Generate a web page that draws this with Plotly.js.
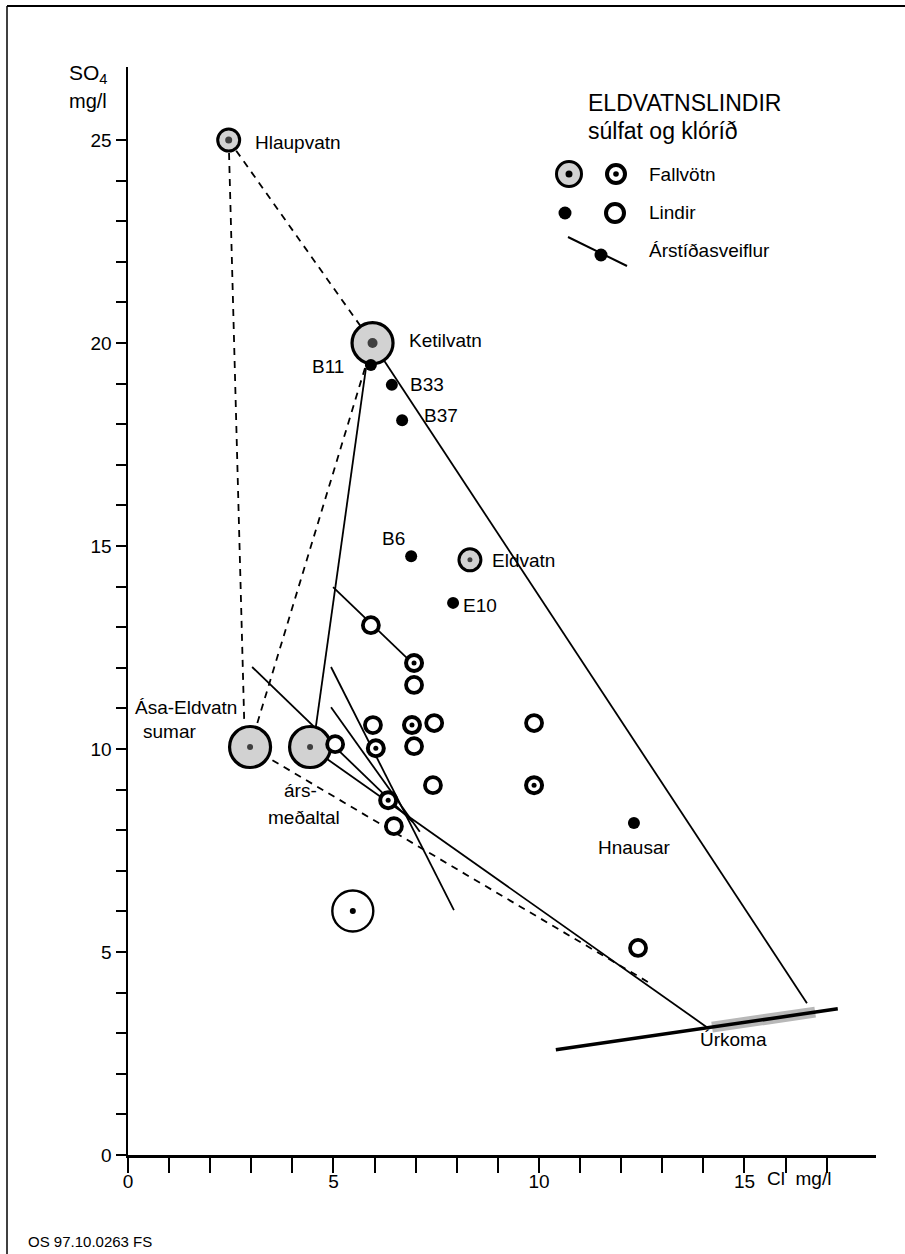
<!DOCTYPE html>
<html>
<head>
<meta charset="utf-8">
<script src="https://cdn.plot.ly/plotly-3.0.1.min.js"></script>
<style>
  html, body { margin: 0; padding: 0; background: #ffffff; }
  #chart { width: 905px; height: 1254px; }
</style>
</head>
<body>
<div id="chart"></div>
<script>
// ---------------- DATA ----------------
// Fallvötn (rivers) – large shaded circles
const fallBigNames = ['Ketilvatn', 'Ása-Eldvatn sumar', 'Ása-Eldvatn ársmeðaltal'];
const fallBigCl    = [5.95, 2.97, 4.43];
const fallBigSO4   = [20.0, 10.05, 10.05];
// Fallvötn – medium shaded circles
const fallMidNames = ['Hlaupvatn', 'Eldvatn'];
const fallMidCl    = [2.45, 8.32];
const fallMidSO4   = [25.0, 14.66];
// Fallvötn – rings with dot
const fallRingCl   = [6.96, 6.91, 6.03, 6.33, 9.88];
const fallRingSO4  = [12.12, 10.59, 10.02, 8.74, 9.11];
// Lindir (springs) – filled dots
const lindDotNames = ['B11', 'B33', 'B37', 'B6', 'E10', 'Hnausar'];
const lindDotCl    = [5.91, 6.42, 6.67, 6.89, 7.91, 12.31];
const lindDotSO4   = [19.46, 18.97, 18.10, 14.75, 13.60, 8.18];
// Lindir – open rings
const lindRingCl   = [5.91, 6.96, 5.96, 7.45, 5.04, 6.96, 7.42, 6.47, 9.88, 12.41];
const lindRingSO4  = [13.05, 11.58, 10.59, 10.64, 10.12, 10.07, 9.11, 8.10, 10.64, 5.10];
// Large unshaded circle with dot
const openBigCl    = [5.47];
const openBigSO4   = [6.01];

// Mixing lines (solid): [Cl start, Cl end], [SO4 start, SO4 end]
const mixSolidCl   = [[5.95, 16.52], [5.79, 4.57], [4.43, 14.11]];
const mixSolidSO4  = [[20.0, 3.74], [19.38, 10.54], [10.05, 3.13]];
// Mixing lines (dashed)
const mixDashCl    = [[2.45, 5.95], [2.45, 2.83], [5.95, 2.97], [2.97, 12.77]];
const mixDashSO4   = [[25.0, 20.0], [25.0, 10.6], [20.0, 10.05], [10.05, 4.19]];
// Seasonal variation lines (Árstíðasveiflur)
const seasonCl     = [[4.99, 6.79], [3.02, 6.93], [4.94, 7.93], [4.94, 7.10]];
const seasonSO4    = [[13.99, 12.24], [12.02, 8.20], [12.02, 6.03], [11.03, 7.96]];
// Precipitation (Úrkoma)
const urkomaCl     = [10.41, 17.27];
const urkomaSO4    = [2.59, 3.60];
const urkomaBandCl = [14.21, 16.72];
const urkomaBandSO4= [3.15, 3.52];

// Axis ticks
const xTickVals  = [0, 5, 10, 15];
const xTickText  = ['0', '5', '10', '15'];
const xMinorVals = [0,1,2,3,4,5,6,7,8,9,10,11,12,13,14,15,16,17];
const yTickVals  = [0, 5, 10, 15, 20, 25];
const yTickText  = ['0', '5', '10', '15', '20', '25'];
const yMinorVals = [0,1,2,3,4,5,6,7,8,9,10,11,12,13,14,15,16,17,18,19,20,21,22,23,24,25];

// ---------------- STYLE / LAYOUT ----------------
const FONT = 'Liberation Sans, Arial, Helvetica, sans-serif';
const SHADE = '#d2d2d2';
const ML = 128, MR = 29, MT = 67, MB = 99, W = 905, H = 1254;
const PW = W - ML - MR, PH = H - MT - MB;
const px = v => (v - ML) / PW;           // pixel x -> paper
const py = v => (H - MB - v) / PH;       // pixel y -> paper

function segTrace(xs, ys, line) {
  const x = [], y = [];
  xs.forEach((s, i) => { x.push(s[0], s[1], null); y.push(ys[i][0], ys[i][1], null); });
  return { type: 'scatter', mode: 'lines', x, y, line, hoverinfo: 'skip', showlegend: false };
}

const traces = [
  { type: 'scatter', mode: 'lines', x: urkomaBandCl, y: urkomaBandSO4,
    line: { color: '#b8b8b8', width: 11 }, showlegend: false, hoverinfo: 'skip' },
  { type: 'scatter', mode: 'lines', x: urkomaCl, y: urkomaSO4,
    line: { color: '#000', width: 3.5 }, showlegend: false, hoverinfo: 'skip' },
  segTrace(mixDashCl, mixDashSO4, { color: '#000', width: 1.8, dash: '7px,6px' }),
  segTrace(mixSolidCl, mixSolidSO4, { color: '#000', width: 1.8 }),
  segTrace(seasonCl, seasonSO4, { color: '#000', width: 1.8 }),
  // large open circle
  { type: 'scatter', mode: 'markers', x: openBigCl, y: openBigSO4, showlegend: false,
    marker: { symbol: 'circle', size: 41, color: '#fff', line: { color: '#000', width: 2.4 } } },
  // big shaded
  { type: 'scatter', mode: 'markers', x: fallBigCl, y: fallBigSO4, text: fallBigNames, showlegend: false,
    marker: { symbol: 'circle', size: 41, color: SHADE, line: { color: '#000', width: 3.2 } } },
  // medium shaded
  { type: 'scatter', mode: 'markers', x: fallMidCl, y: fallMidSO4, text: fallMidNames, showlegend: false,
    marker: { symbol: 'circle', size: 22, color: SHADE, line: { color: '#000', width: 3 } } },
  // fallvötn rings
  { type: 'scatter', mode: 'markers', x: fallRingCl, y: fallRingSO4, showlegend: false,
    marker: { symbol: 'circle', size: 16, color: '#fff', line: { color: '#000', width: 4 } } },
  // lindir rings
  { type: 'scatter', mode: 'markers', x: lindRingCl, y: lindRingSO4, showlegend: false,
    marker: { symbol: 'circle', size: 16, color: '#fff', line: { color: '#000', width: 3.8 } } },
  // lindir dots
  { type: 'scatter', mode: 'markers', x: lindDotCl, y: lindDotSO4, text: lindDotNames, showlegend: false,
    marker: { symbol: 'circle', size: 12, color: '#000', line: { width: 0 } } },
  // centre dots
  { type: 'scatter', mode: 'markers', x: fallBigCl, y: fallBigSO4, showlegend: false, hoverinfo: 'skip',
    marker: { symbol: 'circle', size: [10, 6, 6], color: '#000', line: { width: 0 } } },
  { type: 'scatter', mode: 'markers', x: fallMidCl, y: fallMidSO4, showlegend: false, hoverinfo: 'skip',
    marker: { symbol: 'circle', size: [7, 5], color: '#000', line: { width: 0 } } },
  { type: 'scatter', mode: 'markers', x: fallRingCl, y: fallRingSO4, showlegend: false, hoverinfo: 'skip',
    marker: { symbol: 'circle', size: 5, color: '#000', line: { width: 0 } } },
  { type: 'scatter', mode: 'markers', x: openBigCl, y: openBigSO4, showlegend: false, hoverinfo: 'skip',
    marker: { symbol: 'circle', size: 6, color: '#000', line: { width: 0 } } }
];

// Label placement (pixel offsets from the point)
const labelPos = {
  'Ketilvatn': { ax: 'left', dx: 34, dy: 3 },
  'Hlaupvatn': { ax: 'left', dx: 24, dy: -2 },
  'Eldvatn':   { ax: 'left', dx: 20, dy: -1 },
  'B11':       { ax: 'right', dx: -25, dy: -2 },
  'B33':       { ax: 'left', dx: 16, dy: 0 },
  'B37':       { ax: 'left', dx: 20, dy: 5 },
  'B6':        { ax: 'right', dx: -4, dy: 18 },
  'E10':       { ax: 'left', dx: 8, dy: -3 },
  'Hnausar':   { ax: 'center', dx: 0, dy: -25 }
};
const LF = 19;
const annotations = [];
function addLabel(name, x, y) {
  const p = labelPos[name];
  if (!p) return;
  annotations.push({ x, y, xref: 'x', yref: 'y', text: name, showarrow: false,
    xanchor: p.ax, yanchor: 'middle', xshift: p.dx, yshift: p.dy,
    font: { family: FONT, size: LF, color: '#000' } });
}
fallBigNames.forEach((n, i) => addLabel(n, fallBigCl[i], fallBigSO4[i]));
fallMidNames.forEach((n, i) => addLabel(n, fallMidCl[i], fallMidSO4[i]));
lindDotNames.forEach((n, i) => addLabel(n, lindDotCl[i], lindDotSO4[i]));
// Ása-Eldvatn labels
annotations.push({ x: fallBigCl[1], y: fallBigSO4[1], xref: 'x', yref: 'y', text: 'Ása-Eldvatn',
  showarrow: false, xanchor: 'left', yanchor: 'middle', xshift: -117, yshift: 40,
  font: { family: FONT, size: LF, color: '#000' } });
annotations.push({ x: fallBigCl[1], y: fallBigSO4[1], xref: 'x', yref: 'y', text: 'sumar',
  showarrow: false, xanchor: 'left', yanchor: 'middle', xshift: -109, yshift: 16,
  font: { family: FONT, size: LF, color: '#000' } });
annotations.push({ x: fallBigCl[2], y: fallBigSO4[2], xref: 'x', yref: 'y', text: 'árs-',
  showarrow: false, xanchor: 'center', yanchor: 'middle', xshift: -10, yshift: -43,
  font: { family: FONT, size: LF, color: '#000' } });
annotations.push({ x: fallBigCl[2], y: fallBigSO4[2], xref: 'x', yref: 'y', text: 'meðaltal',
  showarrow: false, xanchor: 'center', yanchor: 'middle', xshift: -6, yshift: -70,
  font: { family: FONT, size: LF, color: '#000' } });
// Úrkoma label
annotations.push({ x: (urkomaBandCl[0] + urkomaBandCl[1]) / 2, y: (urkomaBandSO4[0] + urkomaBandSO4[1]) / 2,
  xref: 'x', yref: 'y', text: 'Úrkoma', showarrow: false, xanchor: 'center', yanchor: 'middle',
  xshift: -30, yshift: -20, font: { family: FONT, size: LF, color: '#000' } });

// Titles and axis labels
function pAnn(text, x, y, size, xa, ya) {
  annotations.push({ x: px(x), y: py(y), xref: 'paper', yref: 'paper', text, showarrow: false,
    xanchor: xa || 'left', yanchor: ya || 'middle', font: { family: FONT, size, color: '#000' } });
}
pAnn('ELDVATNSLINDIR', 586, 103, 23);
pAnn('súlfat og klóríð', 586, 131, 23);
pAnn('SO<sub>4</sub>', 88, 74, 21, 'center');
pAnn('mg/l', 88, 101, 20, 'center');
pAnn('Cl  mg/l', 765, 1178, 19);
pAnn('OS 97.10.0263 FS', 26, 1241, 15);
pAnn('Fallvötn', 647, 175, 19);
pAnn('Lindir', 647, 213, 19);
pAnn('Árstíðasveiflur', 647, 251, 19);

// Shapes: frame + legend symbols
function circ(cx, cy, r, fill, lw) {
  return { type: 'circle', xref: 'paper', yref: 'paper', xsizemode: 'pixel', ysizemode: 'pixel',
    xanchor: px(cx), yanchor: py(cy), x0: -r, x1: r, y0: -r, y1: r,
    fillcolor: fill, line: { color: '#000', width: lw } };
}
const shapes = [
  { type: 'line', xref: 'paper', yref: 'paper', x0: px(7), x1: px(905), y0: py(6), y1: py(6),
    line: { color: '#000', width: 2 } },
  { type: 'line', xref: 'paper', yref: 'paper', x0: px(7), x1: px(7), y0: py(6), y1: py(1254),
    line: { color: '#000', width: 1.5 } },
  circ(569, 174, 12.5, SHADE, 3),
  circ(569, 174, 3.5, '#000', 0),
  circ(616, 174, 9, '#fff', 4),
  circ(616, 174, 2.8, '#000', 0),
  circ(565, 213, 6.5, '#000', 0),
  circ(615, 213, 9, '#fff', 4),
  { type: 'line', xref: 'paper', yref: 'paper', x0: px(568), x1: px(627), y0: py(237), y1: py(266),
    line: { color: '#000', width: 2 } },
  circ(601, 255, 6.5, '#000', 0)
];

const layout = {
  width: W, height: H,
  margin: { l: ML, r: MR, t: MT, b: MB, pad: 0 },
  paper_bgcolor: '#fff', plot_bgcolor: '#fff',
  showlegend: false,
  font: { family: FONT, color: '#000' },
  xaxis: {
    range: [0, 18.2], showgrid: false, zeroline: false, showline: true, linecolor: '#000', linewidth: 2.5,
    ticks: 'outside', ticklen: 15, tickwidth: 2, tickcolor: '#000', ticklabelstandoff: -7,
    tickmode: 'array', tickvals: xTickVals, ticktext: xTickText,
    minor: { tickmode: 'array', tickvals: xMinorVals, ticks: 'outside', ticklen: 15, tickwidth: 2, tickcolor: '#000', showgrid: false },
    tickfont: { family: FONT, size: 19, color: '#000' }, fixedrange: true
  },
  yaxis: {
    range: [0, 26.8], showgrid: false, zeroline: false, showline: true, linecolor: '#000', linewidth: 2.5,
    ticks: 'outside', ticklen: 10, tickwidth: 2, tickcolor: '#000',
    tickmode: 'array', tickvals: yTickVals, ticktext: yTickText,
    minor: { tickmode: 'array', tickvals: yMinorVals, ticks: 'outside', ticklen: 10, tickwidth: 2, tickcolor: '#000', showgrid: false },
    tickfont: { family: FONT, size: 19, color: '#000' }, fixedrange: true
  },
  annotations, shapes
};

Plotly.newPlot('chart', traces, layout, { staticPlot: true, displayModeBar: false });
</script>
</body>
</html>
